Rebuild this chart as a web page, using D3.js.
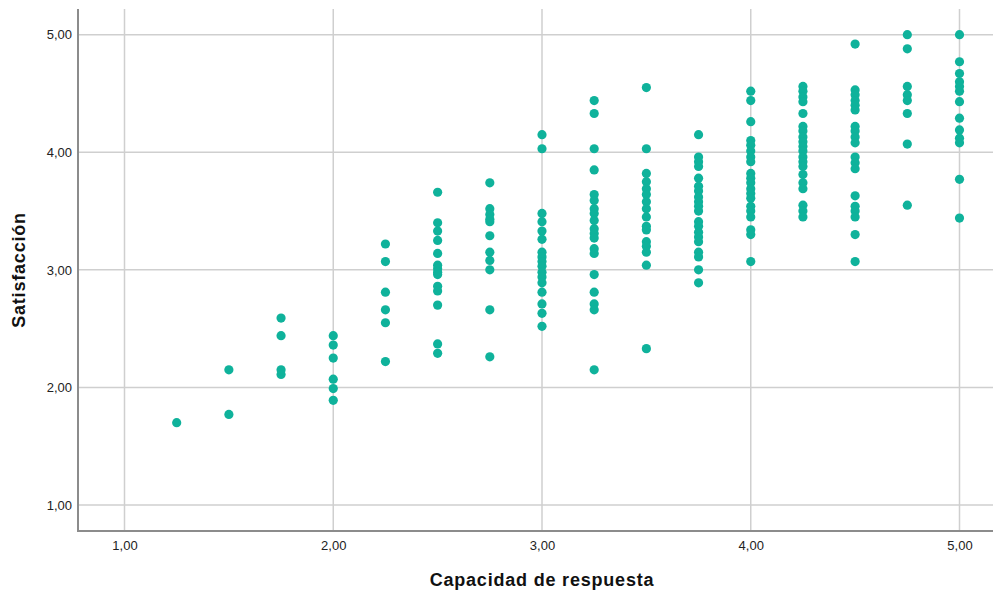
<!DOCTYPE html>
<html>
<head>
<meta charset="utf-8">
<script src="https://cdn.jsdelivr.net/npm/d3@7"></script>
<style>
  body { margin: 0; background: #fff; }
  text { font-family: "Liberation Sans", Arial, sans-serif; }
</style>
</head>
<body>
<div id="chart"></div>
<script>
// Scatter of Capacidad de respuesta vs Satisfacción (SPSS style)

const ticks = [1, 2, 3, 4, 5];

// one entry per x column, y values
const xCols = [1.25, 1.5, 1.75, 2.0, 2.25, 2.5, 2.75, 3.0, 3.25, 3.5, 3.75, 4.0, 4.25, 4.5, 4.75, 5.0];
const yCols = [
  [1.70],
  [2.15, 1.77],
  [2.59, 2.44, 2.15, 2.11],
  [2.44, 2.36, 2.25, 2.07, 1.99, 1.89],
  [3.22, 3.07, 2.81, 2.66, 2.55, 2.22],
  [3.66, 3.40, 3.33, 3.25, 3.14, 3.04, 3.01, 2.98, 2.96, 2.86, 2.82, 2.70, 2.37, 2.29],
  [3.74, 3.52, 3.47, 3.43, 3.41, 3.29, 3.15, 3.08, 3.00, 2.66, 2.26],
  [4.15, 4.03, 3.48, 3.41, 3.33, 3.26, 3.15, 3.11, 3.07, 3.03, 2.98, 2.94, 2.89, 2.81, 2.71, 2.63, 2.52],
  [4.44, 4.33, 4.03, 3.85, 3.64, 3.59, 3.52, 3.48, 3.42, 3.35, 3.31, 3.27, 3.18, 3.14, 2.96, 2.81, 2.71, 2.66, 2.15],
  [4.55, 4.03, 3.82, 3.75, 3.69, 3.64, 3.58, 3.52, 3.45, 3.37, 3.34, 3.24, 3.20, 3.15, 3.04, 2.33],
  [4.15, 3.96, 3.92, 3.88, 3.78, 3.71, 3.67, 3.62, 3.58, 3.54, 3.50, 3.41, 3.37, 3.32, 3.28, 3.24, 3.15, 3.11, 3.00, 2.89],
  [4.52, 4.44, 4.26, 4.10, 4.06, 4.01, 3.96, 3.92, 3.82, 3.78, 3.74, 3.69, 3.65, 3.61, 3.54, 3.50, 3.45, 3.34, 3.30, 3.07],
  [4.56, 4.52, 4.47, 4.43, 4.33, 4.22, 4.18, 4.13, 4.09, 4.05, 4.01, 3.96, 3.92, 3.88, 3.81, 3.74, 3.69, 3.55, 3.50, 3.45],
  [4.92, 4.53, 4.49, 4.44, 4.40, 4.36, 4.22, 4.18, 4.13, 4.08, 3.96, 3.91, 3.86, 3.63, 3.54, 3.50, 3.45, 3.30, 3.07],
  [5.00, 4.88, 4.56, 4.49, 4.44, 4.33, 4.07, 3.55],
  [5.00, 4.77, 4.67, 4.60, 4.56, 4.52, 4.43, 4.29, 4.19, 4.12, 4.08, 3.77, 3.44]
];

const data = [];
xCols.forEach(function (xv, i) {
  yCols[i].forEach(function (yv) { data.push({ x: xv, y: yv }); });
});

const W = 993, H = 593;
const plot = { left: 78, right: 993, top: 9, bottom: 531 };

const svg = d3.select("#chart")
  .append("svg")
  .attr("width", W)
  .attr("height", H);

const x = d3.scaleLinear().domain([1, 5]).range([124.5, 959.5]);
const y = d3.scaleLinear().domain([1, 5]).range([505, 34.7]);

const fmt = function (d) { return d3.format(".2f")(d).replace(".", ","); };

// gridlines
svg.append("g")
  .selectAll("line")
  .data(ticks)
  .enter()
  .append("line")
  .attr("x1", d => x(d)).attr("x2", d => x(d))
  .attr("y1", plot.top).attr("y2", plot.bottom)
  .attr("stroke", "#cfcfcf")
  .attr("stroke-width", 1.5);

svg.append("g")
  .selectAll("line")
  .data(ticks)
  .enter()
  .append("line")
  .attr("x1", plot.left).attr("x2", plot.right)
  .attr("y1", d => y(d)).attr("y2", d => y(d))
  .attr("stroke", "#cfcfcf")
  .attr("stroke-width", 1.5);

// axes
const xAxis = svg.append("g")
  .attr("transform", `translate(0, ${plot.bottom})`)
  .call(d3.axisBottom(x).tickValues(ticks).tickSize(0).tickPadding(10).tickFormat(fmt));
xAxis.select(".domain").remove();
xAxis.selectAll("text").attr("font-size", 13).attr("fill", "#222")
  .attr("font-family", "'Liberation Sans', Arial, sans-serif");

const yAxis = svg.append("g")
  .attr("transform", `translate(${plot.left}, 0)`)
  .call(d3.axisLeft(y).tickValues(ticks).tickSize(0).tickPadding(6).tickFormat(fmt));
yAxis.select(".domain").remove();
yAxis.selectAll("text").attr("font-size", 13).attr("fill", "#222")
  .attr("font-family", "'Liberation Sans', Arial, sans-serif");

// axis lines
svg.append("line")
  .attr("x1", plot.left).attr("x2", plot.left)
  .attr("y1", plot.top).attr("y2", plot.bottom + 1)
  .attr("stroke", "#8c8c8c").attr("stroke-width", 2);
svg.append("line")
  .attr("x1", plot.left - 1).attr("x2", plot.right)
  .attr("y1", plot.bottom).attr("y2", plot.bottom)
  .attr("stroke", "#8c8c8c").attr("stroke-width", 2);

// dots
svg.append("g")
  .selectAll("circle")
  .data(data)
  .enter()
  .append("circle")
  .attr("cx", d => x(d.x))
  .attr("cy", d => y(d.y))
  .attr("r", 4.6)
  .style("fill", "#0fb29b");

// titles
svg.append("text")
  .attr("x", 542).attr("y", 586)
  .attr("text-anchor", "middle")
  .attr("font-size", 18).attr("font-weight", "bold").attr("fill", "#111")
  .attr("letter-spacing", 0.8)
  .text("Capacidad de respuesta");

svg.append("text")
  .attr("transform", "translate(25, 270) rotate(-90)")
  .attr("text-anchor", "middle")
  .attr("font-size", 18).attr("font-weight", "bold").attr("fill", "#111")
  .attr("letter-spacing", 0.8)
  .text("Satisfacción");
</script>
</body>
</html>
